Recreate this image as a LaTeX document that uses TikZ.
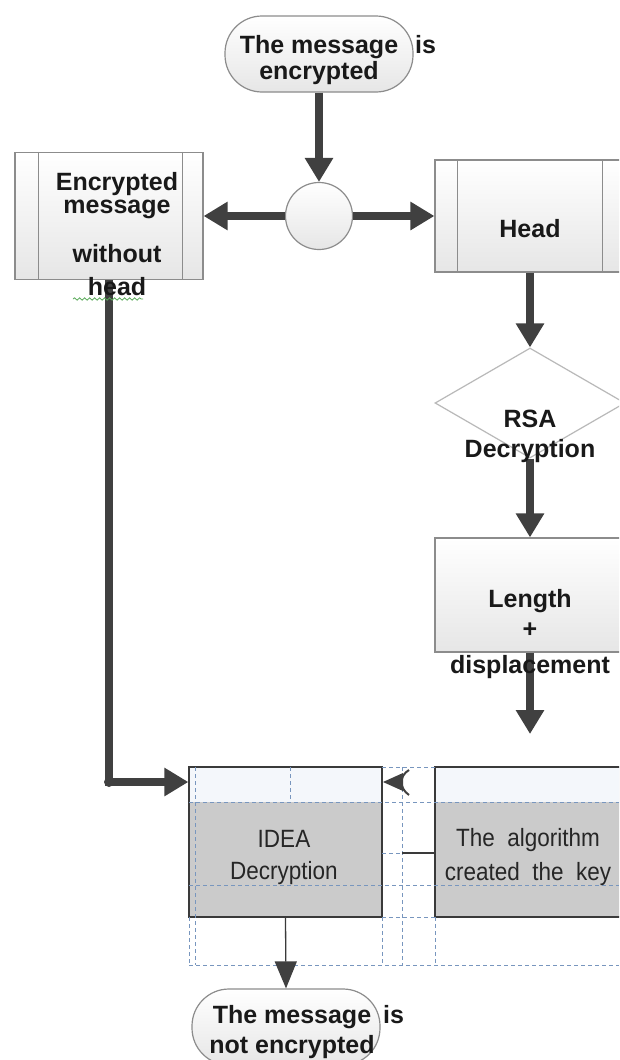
\documentclass[tikz,border=0pt]{standalone}
\usepackage{fontspec}
\setmainfont{Liberation Sans}
\newfontfamily\condfont[FakeStretch=0.9,WordSpace=2]{Liberation Sans}
\usetikzlibrary{arrows.meta,shapes.geometric,decorations.pathmorphing}
\definecolor{conncol}{HTML}{404040}
\definecolor{boxline}{HTML}{8C8C8C}
\definecolor{boxbot}{HTML}{E6E6E6}
\definecolor{gridcol}{RGB}{120,150,190}
\definecolor{tblgray}{HTML}{CBCBCB}
\definecolor{bandcol}{HTML}{F4F7FB}
\definecolor{tblline}{HTML}{3A3A3A}
\definecolor{spellgreen}{RGB}{90,170,90}
\begin{document}
\begin{tikzpicture}[x=1pt,y=-1pt,
  conn/.style={line width=7.5pt,draw=conncol,-{Triangle[length=24pt,width=27pt]}},
  procbox/.style={draw=boxline,line width=1.2pt,top color=white,bottom color=boxbot,inner sep=0pt},
  term/.style={procbox,rounded corners=37pt},
  innerline/.style={draw=boxline,line width=1.2pt},
  lbl/.style={font=\bfseries\fontsize{25}{25}\selectfont,align=center,inner sep=0pt,text=black!90},
  tblbox/.style={draw=tblline,line width=1.3pt,fill=tblgray,inner sep=0pt,
    path picture={\fill[bandcol] (path picture bounding box.north west) rectangle ([yshift=-35pt]path picture bounding box.north east);}},
  gridln/.style={draw=gridcol,line width=1pt,dash pattern=on 4pt off 3pt},
  tbltxt/.style={font=\condfont\fontsize{25}{32}\selectfont,align=center,inner sep=0pt,text=black!85}
]
\clip (0,0) rectangle (619,1060);
\fill[white] (0,0) rectangle (619,1060);

% shapes
\node[term,minimum width=188pt,minimum height=76pt] (tt) at (319,54) {};
\node[procbox,circle,minimum size=67pt] (c) at (319,216) {};
\node[procbox,minimum width=188pt,minimum height=127pt] (lb) at (109,216) {};
\draw[innerline] ([xshift=24pt]lb.north west) -- ([xshift=24pt]lb.south west);
\draw[innerline] ([xshift=-21pt]lb.north east) -- ([xshift=-21pt]lb.south east);
\node[procbox,minimum width=190pt,minimum height=112pt] (hb) at (530,216) {};
\draw[innerline] ([xshift=23pt]hb.north west) -- ([xshift=23pt]hb.south west);
\draw[innerline] ([xshift=-23pt]hb.north east) -- ([xshift=-23pt]hb.south east);
\node[diamond,draw=gray!55,line width=1.2pt,fill=white,minimum width=190pt,minimum height=110pt,inner sep=0pt] (d) at (530,403) {};
\node[procbox,minimum width=190pt,minimum height=114pt] (lg) at (530,595) {};
\coordinate (lend) at (530,734);

% table
\node[tblbox,minimum width=193pt,minimum height=150pt] (idea) at (285.5,842) {};
\node[tblbox,minimum width=210pt,minimum height=150pt] (alg) at (540,842) {};
\draw[gridln] (189,802) -- (619,802);
\draw[gridln] (189,885) -- (619,885);
\draw[gridln] (189,965) -- (619,965);
\draw[gridln] (382,767) -- (435,767);
\draw[gridln] (382,853) -- (402,853);
\draw[gridln] (382,917) -- (435,917);
\draw[gridln] (195,767) -- (195,965);
\draw[gridln] (189,917) -- (189,965);
\draw[gridln] (290,767) -- (290,802);
\draw[gridln] (382,917) -- (382,965);
\draw[gridln] (402,767) -- (402,965);
\draw[gridln] (435,917) -- (435,965);
\draw[tblline,line width=1.3pt] (402,853) -- (435,853);
% small left-pointing tip
\fill[conncol] (383,782) -- (403,773) -- (403,791) -- cycle;
\draw[conncol,line width=2pt] (409,770) .. controls (399,776) and (399,788) .. (409,795);

\node[term,minimum width=188pt,minimum height=76pt] (bt) at (286,1027) {};

% connectors
\draw[conn] (tt.south) -- (c.north);
\draw[conn] (c.west) -- (lb.east);
\draw[conn] (c.east) -- (hb.west);
\draw[conn] (hb.south) -- (d.north);
\draw[conn] (d.south) -- (lg.north);
\draw[conn] (lg.south) -- (lend);
\coordinate (jn) at (109,782);
\draw[conn] (lb.south) -- (jn) -- (jn -| idea.west);
\fill[conncol] (jn) circle (5pt);
\draw[line width=1.3pt,draw=tblline,-{Triangle[length=27pt,width=22pt,color=conncol]}] (idea.south) -- (bt.north);

% texts
\node[lbl,anchor=north] (ttx) at (319,35) {The message\rlap{\hspace{17pt}is}\\[1pt]encrypted};
\node[lbl,anchor=north] (lbx) at (117,172) {Encrypted\\[-2pt]message\\[24pt]without\\[8pt]head};
\draw[spellgreen,line width=0.8pt,decorate,decoration={snake,amplitude=1.2pt,segment length=5pt}] (73,299) -- (143,299);
\node[lbl] (hbx) at (530,229) {Head};
\node[lbl,anchor=north] (dx) at (530,410) {RSA\\[5pt]Decryption};
\node[lbl,anchor=north] (lgx) at (530,589) {Length\\[5pt]+\\[11pt]displacement};
\node[tbltxt,anchor=north] (ideax) at (284,830) {IDEA\\Decryption};
\node[tbltxt,anchor=north] (algx) at (528,828) {The algorithm\\[2pt]created the key};
\node[lbl,anchor=north] (btx) at (292,1005) {The message\rlap{\hspace{12pt}is}\\[5pt]not encrypted};
\end{tikzpicture}
\end{document}
